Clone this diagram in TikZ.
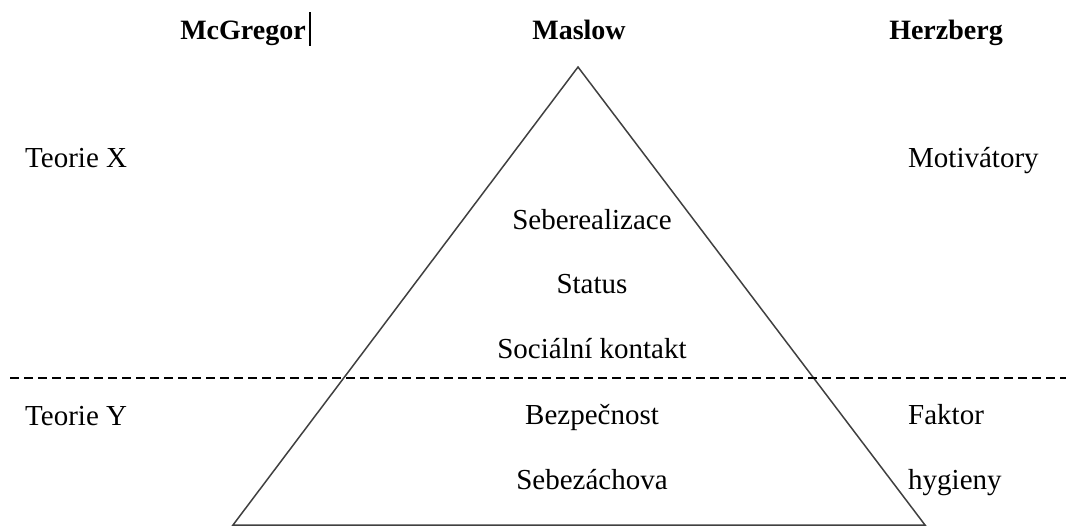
\documentclass[tikz,border=0pt]{standalone}
\usepackage{fontspec}
\setmainfont{Liberation Serif}
\begin{document}
\begin{tikzpicture}[x=1pt,y=-1pt,
  lbl/.style={inner sep=0pt,font=\fontsize{29}{33}\selectfont},
  ttl/.style={lbl,font=\fontsize{28}{32}\selectfont\bfseries},
  side/.style={draw=black!75,line width=1.5pt},
  divider/.style={draw=black,line width=1.4pt,dash pattern=on 9pt off 5pt}]
\useasboundingbox (0,0) rectangle (1066,528);
% titles
\node[ttl,anchor=base] (mcg) at (243,39) {McGregor};
\node[ttl,anchor=base] (mas) at (579,39) {Maslow};
\node[ttl,anchor=base] (her) at (946,39) {Herzberg};
\coordinate (curtop) at (310,12);
\coordinate (curbot) at (310,46);
\draw[line width=2.2pt] (curtop) -- (curbot);
% triangle
\coordinate (apex) at (578,67);
\coordinate (bl) at (233,525);
\coordinate (br) at (925,525);
\draw[side,line join=miter] (bl) -- (apex) -- (br) -- cycle;
% divider
\coordinate (dl) at (10,378);
\coordinate (dr) at (1066,378);
\draw[divider] (dl) -- (dr);
% left
\node[lbl,anchor=base west] (tx) at (25,167) {Teorie X};
\node[lbl,anchor=base west] (ty) at (25,425) {Teorie Y};
% right
\node[lbl,anchor=base west] (mot) at (908,167) {Motivátory};
\node[lbl,anchor=base west] (fak) at (908,424) {Faktor};
\node[lbl,anchor=base west] (hyg) at (908,489) {hygieny};
% center
\node[lbl,anchor=base] (s1) at (592,229) {Seberealizace};
\node[lbl,anchor=base] (s2) at (592,293) {Status};
\node[lbl,anchor=base] (s3) at (592,358) {Sociální kontakt};
\node[lbl,anchor=base] (s4) at (592,424) {Bezpečnost};
\node[lbl,anchor=base] (s5) at (592,489) {Sebezáchova};
\end{tikzpicture}
\end{document}
